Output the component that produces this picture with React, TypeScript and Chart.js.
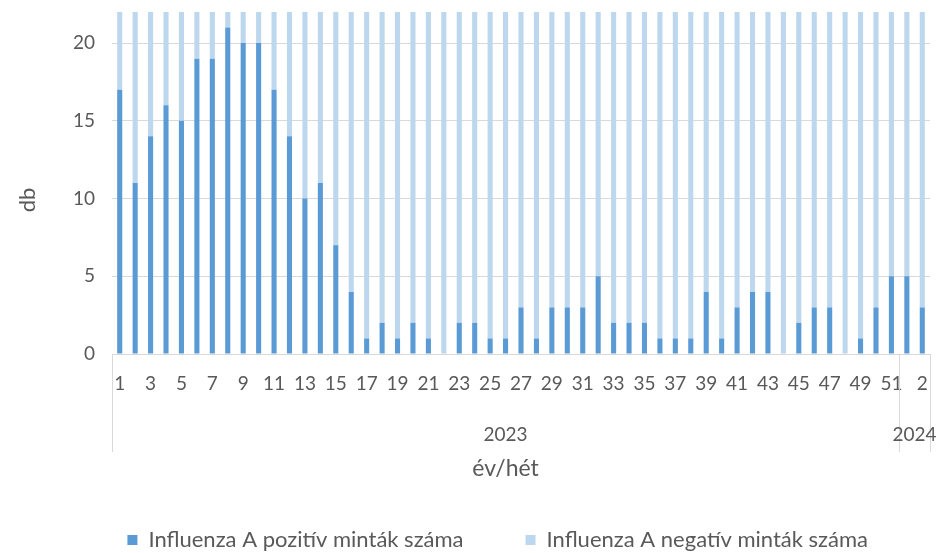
import React, { useEffect, useRef } from 'react';
import { Chart, registerables } from 'chart.js';

Chart.register(...registerables);

// Categories: weeks of 2023 (as shown) and 2024
const weeks2023 = [
  '1', '2', '3', '4', '5', '6', '7', '8', '9', '10',
  '11', '12', '13', '14', '15', '16', '17', '18', '19', '20',
  '21', '22', '23', '24', '25', '26', '27', '28', '29', '30',
  '31', '32', '33', '34', '35', '36', '37', '38', '39', '40',
  '41', '42', '43', '44', '45', '46', '47', '48', '49', '50', '51',
];
const weeks2024 = ['1', '2'];
const years = ['2023', '2024'];

const positiveLabel = 'Influenza A pozitív minták száma';
const negativeLabel = 'Influenza A negatív minták száma';

const positive = [
  17, 11, 14, 16, 15, 19, 19, 21, 20, 20,
  17, 14, 10, 11, 7, 4, 1, 2, 1, 2,
  1, 0, 2, 2, 1, 1, 3, 1, 3, 3,
  3, 5, 2, 2, 2, 1, 1, 1, 4, 1,
  3, 4, 4, 0, 2, 3, 3, 0, 1, 3,
  5, 5, 3,
];
// negative counts exceed the axis maximum (bars are clipped at the top)
const negative = [
  38, 42, 40, 35, 37, 33, 36, 30, 34, 31,
  29, 33, 35, 30, 34, 31, 36, 33, 38, 35,
  32, 37, 34, 39, 36, 33, 35, 38, 34, 36,
  32, 35, 37, 33, 36, 38, 34, 37, 35, 39,
  33, 36, 34, 38, 35, 37, 33, 36, 39, 34,
  36, 33, 37,
];

const yMin = 0;
const yMax = 22;
const yStep = 5;

const axisTitleX = 'év/hét';
const axisTitleY = 'db';

const TEXT = '#595959';
const GRID = '#d9d9d9';
const FONT = 'Lato, "Open Sans", sans-serif';

const yearRowPlugin = {
  id: 'yearRow',
  afterDraw(chart: any) {
    const { ctx, chartArea, scales } = chart;
    const x = scales.x;
    const n1 = weeks2023.length;
    const boundary = (x.getPixelForValue(n1 - 1) + x.getPixelForValue(n1)) / 2;
    const bottom = chartArea.bottom;
    ctx.save();
    ctx.strokeStyle = GRID;
    ctx.lineWidth = 1;
    [chartArea.left, boundary, chartArea.right].forEach((px: number) => {
      const p = Math.round(px) + 0.5;
      ctx.beginPath();
      ctx.moveTo(p, bottom);
      ctx.lineTo(p, bottom + 98);
      ctx.stroke();
    });
    ctx.fillStyle = TEXT;
    ctx.font = `19px ${FONT}`;
    ctx.textAlign = 'center';
    ctx.textBaseline = 'middle';
    ctx.fillText(years[0], (chartArea.left + boundary) / 2, bottom + 81);
    ctx.fillText(years[1], (boundary + chartArea.right) / 2, bottom + 81);
    ctx.font = `23px ${FONT}`;
    ctx.fillText(axisTitleX, (chartArea.left + boundary) / 2, bottom + 115);
    ctx.font = `22px ${FONT}`;
    ctx.translate(28, (chartArea.top + chartArea.bottom) / 2 + 17);
    ctx.rotate(-Math.PI / 2);
    ctx.fillText(axisTitleY, 0, 0);
    ctx.restore();
  },
};

export default function App() {
  const ref = useRef<HTMLCanvasElement | null>(null);

  useEffect(() => {
    if (!ref.current) return;
    const labels = [...weeks2023, ...weeks2024];
    const chart = new Chart(ref.current, {
      type: 'bar',
      data: {
        labels,
        datasets: [
          {
            label: positiveLabel,
            data: positive,
            backgroundColor: '#5B9BD5',
            borderWidth: 0,
            barPercentage: 0.33,
            categoryPercentage: 1,
          },
          {
            label: negativeLabel,
            data: negative,
            backgroundColor: '#BDD7EE',
            borderWidth: 0,
            barPercentage: 0.33,
            categoryPercentage: 1,
          },
        ],
      },
      options: {
        responsive: false,
        animation: false,
        layout: { padding: { left: 0, right: 8, top: 12, bottom: -8 } },
        plugins: {
          legend: {
            position: 'bottom',
            align: 'end',
            labels: {
              boxWidth: 10,
              boxHeight: 10,
              padding: 62,
              color: TEXT,
              font: { family: FONT, size: 22 },
            },
          },
          tooltip: { enabled: false },
        },
        scales: {
          x: {
            stacked: true,
            grid: {
              display: true,
              drawOnChartArea: false,
              drawTicks: true,
              tickLength: 18,
              tickColor: 'rgba(0,0,0,0)',
              color: 'rgba(0,0,0,0)',
            },
            border: { display: true, color: GRID },
            ticks: {
              autoSkip: false,
              maxRotation: 0,
              minRotation: 0,
              padding: 0,
              color: TEXT,
              font: { family: FONT, size: 19 },
              callback: (_v: any, i: number) => (i % 2 === 0 ? labels[i] : ''),
            },
            afterFit: (s: any) => {
              s.height = 113;
            },
          },
          y: {
            stacked: true,
            min: yMin,
            max: yMax,
            grid: {
              color: GRID,
              drawTicks: true,
              tickLength: 17,
              tickColor: 'rgba(0,0,0,0)',
            },
            border: { display: false },
            ticks: {
              stepSize: yStep,
              includeBounds: false,
              padding: 0,
              color: TEXT,
              font: { family: FONT, size: 19 },
            },
            afterFit: (s: any) => {
              s.width = 112;
            },
          },
        },
      },
      plugins: [yearRowPlugin],
    });
    return () => chart.destroy();
  }, []);

  return (
    <div style={{ position: 'fixed', left: 0, top: 0, width: 938, height: 553, background: '#fff' }}>
      <canvas ref={ref} width={938} height={553} />
    </div>
  );
}
